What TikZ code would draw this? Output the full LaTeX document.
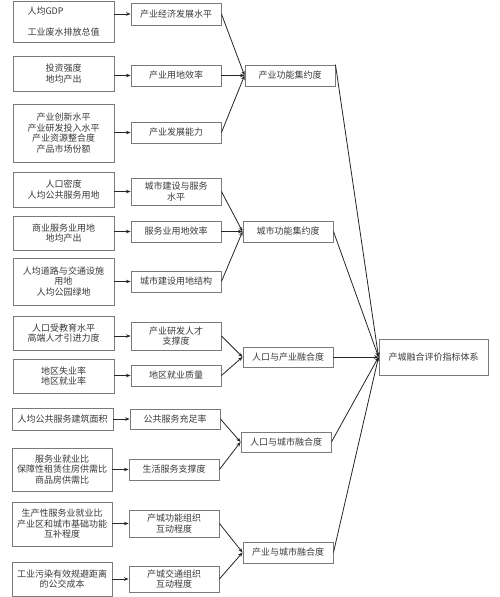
\documentclass[tikz,border=0pt]{standalone}
\usepackage{fontspec}
\newfontfamily\cjk{Noto Sans CJK SC}
\usetikzlibrary{arrows.meta}
\definecolor{boxline}{HTML}{7A7A7A}
\definecolor{txt}{HTML}{3A3A3A}
\definecolor{conn}{HTML}{262626}
\tikzset{
  bx/.style={draw=boxline, line width=0.9pt, rectangle, inner sep=0pt, align=center,
    text=txt, font=\cjk\fontsize{9}{10.5}\selectfont},
  lbox/.style={bx, minimum width=101pt},
  mbox/.style={bx, minimum width=90pt},
  tbox/.style={bx, minimum width=90pt},
  conar/.style={draw=conn, line width=0.8pt, -{Stealth[length=4.5pt,width=3.5pt]}}
}
\begin{document}
\begin{tikzpicture}[x=1pt,y=-1pt]
\useasboundingbox[fill=white] (0,0) rectangle (500,597);
% left column
\node[lbox, minimum height=41pt, align=left] (L1) at (63.5,21.5) {人均GDP\\[10pt]工业废水排放总值};
\node[lbox, minimum height=35pt] (L2) at (63.5,73.5) {投资强度\\地均产出};
\node[lbox, minimum height=58pt] (L3) at (63.5,133) {产业创新水平\\产业研发投入水平\\产业资源整合度\\产品市场份额};
\node[lbox, minimum height=35pt] (L4) at (63.5,189.5) {人口密度\\人均公共服务用地};
\node[lbox, minimum height=34pt] (L5) at (63.5,233) {商业服务业用地\\地均产出};
\node[lbox, minimum height=47pt] (L6) at (63.5,281.5) {人均道路与交通设施\\用地\\人均公园绿地};
\node[lbox, minimum height=34pt] (L7) at (63.5,333) {人口受教育水平\\高端人才引进力度};
\node[lbox, minimum height=34pt] (L8) at (63.5,376) {地区失业率\\地区就业率};
\node[lbox, minimum height=22pt] (L9) at (62.5,419) {人均公共服务建筑面积};
\node[lbox, minimum height=43pt, minimum width=100pt] (L10) at (62,469.5) {服务业就业比\\保障性租赁住房供需比\\商品房供需比};
\node[lbox, minimum height=44pt, minimum width=100pt] (L11) at (62,524) {生产性服务业就业比\\产业区和城市基础功能\\互补程度};
\node[lbox, minimum height=34pt, minimum width=100pt] (L12) at (62,579) {工业污染有效规避距离\\的公交成本};
% middle column
\node[mbox, minimum height=22pt] (M1) at (176,14) {产业经济发展水平};
\node[mbox, minimum height=21pt] (M2) at (176,75.5) {产业用地效率};
\node[mbox, minimum height=21pt] (M3) at (176,132.5) {产业发展能力};
\node[mbox, minimum height=27pt] (M4) at (176,191.5) {城市建设与服务\\水平};
\node[mbox, minimum height=21pt] (M5) at (176,231.5) {服务业用地效率};
\node[mbox, minimum height=21pt] (M6) at (176,281.5) {城市建设用地结构};
\node[mbox, minimum height=28pt] (M7) at (176,336) {产业研发人才\\支撑度};
\node[mbox, minimum height=21pt] (M8) at (176,375.5) {地区就业质量};
\node[mbox, minimum height=20pt] (M9) at (175,419) {公共服务充足率};
\node[mbox, minimum height=21pt] (M10) at (174,469.5) {生活服务支撑度};
\node[mbox, minimum height=27pt] (M11) at (174,523.5) {产城功能组织\\互动程度};
\node[mbox, minimum height=26pt] (M12) at (174,579) {产城交通组织\\互动程度};
% third column
\node[tbox, minimum height=21pt] (T1) at (290,75.5) {产业功能集约度};
\node[tbox, minimum height=21pt] (T2) at (288,231.5) {城市功能集约度};
\node[tbox, minimum height=20pt] (T3) at (288,357) {人口与产业融合度};
\node[tbox, minimum height=20pt] (T4) at (286,442) {人口与城市融合度};
\node[tbox, minimum height=21pt] (T5) at (288,552.5) {产业与城市融合度};
% final
\node[bx, minimum width=109pt, minimum height=36pt] (F) at (433.5,357) {产城融合评价指标体系};
% left -> middle
\foreach \i in {1,...,12} {
  \draw[conar] (M\i.west -| L\i.east) -- (M\i.west);
}
% middle -> third
\foreach \m/\t in {1/1,2/1,3/1,4/2,5/2,6/2,7/3,8/3,9/4,10/4,11/5,12/5} {
  \draw[conar] (M\m.east) -- (T\t.west);
}
% third -> final
\draw[conar] (T1.north east) -- (F.west);
\foreach \t in {2,...,5} {
  \draw[conar] (T\t.east) -- (F.west);
}
\end{tikzpicture}
\end{document}
